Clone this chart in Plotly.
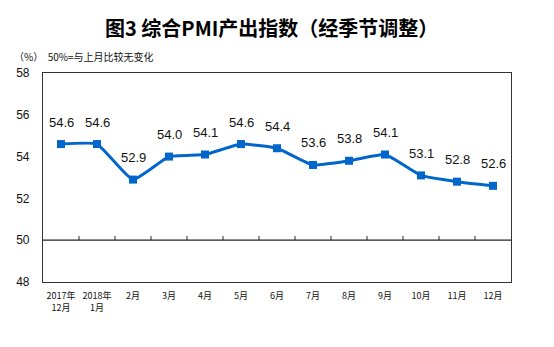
import plotly.graph_objects as go

categories = ["2017年<br>12月", "2018年<br>1月", "2月", "3月", "4月", "5月", "6月",
              "7月", "8月", "9月", "10月", "11月", "12月"]
values = [54.6, 54.6, 52.9, 54.0, 54.1, 54.6, 54.4, 53.6, 53.8, 54.1, 53.1, 52.8, 52.6]
y_ticks = [48, 50, 52, 54, 56, 58]

xs = list(range(len(categories)))
FONT = "Liberation Sans, Arial, Noto Sans CJK SC, sans-serif"
CJK = "Noto Sans CJK SC, sans-serif"

fig = go.Figure()
fig.add_trace(go.Scatter(
    x=xs, y=values, mode="lines+markers",
    line=dict(color="#0066CC", width=3, shape="spline", smoothing=0.4),
    marker=dict(symbol="square", size=8, color="#0066CC"),
    cliponaxis=False, showlegend=False, hoverinfo="skip"))

shapes = [dict(type="line", xref="x", yref="y", x0=-0.5, x1=len(categories) - 0.5,
               y0=50, y1=50, line=dict(color="#222222", width=1.2))]
for k in range(1, len(categories)):
    shapes.append(dict(type="line", xref="x", yref="y", x0=k - 0.5, x1=k - 0.5,
                       y0=50, y1=50.2, line=dict(color="#222222", width=1)))

annotations = [
    dict(x=x, y=v, text=f"{v:.1f}", xref="x", yref="y", showarrow=False,
         yshift=22, xanchor="center", yanchor="middle",
         font=dict(family=FONT, size=13, color="#111111"))
    for x, v in zip(xs, values)
]
annotations += [
    dict(text="<b>图3 综合PMI产出指数（经季节调整）</b>", xref="paper", yref="paper",
         x=0.5, y=1, xshift=-6, yshift=46, xanchor="center", yanchor="middle", showarrow=False,
         font=dict(family=CJK, size=20, color="#000000")),
    dict(text="（%）  50%=与上月比较无变化", xref="paper", yref="paper",
         x=0, xshift=-31, y=1, yshift=17, xanchor="left", yanchor="middle",
         showarrow=False, font=dict(family=CJK, size=10, color="#111111")),
]

fig.update_layout(
    width=554, height=347,
    margin=dict(l=43, r=43, t=73, b=65),
    paper_bgcolor="white", plot_bgcolor="white",
    shapes=shapes,
    annotations=annotations,
    xaxis=dict(range=[-0.5, len(categories) - 0.5], tickvals=xs, ticktext=categories,
               showgrid=False, zeroline=False, showline=True, mirror=True,
               linecolor="#333333", linewidth=1.2, ticks="", ticklabelstandoff=5,
               tickfont=dict(family=CJK, size=9, color="#111111")),
    yaxis=dict(range=[48, 58], tickvals=y_ticks, showgrid=False, zeroline=False,
               showline=True, mirror=True, linecolor="#333333", linewidth=1.2,
               ticks="", ticklabelstandoff=10,
               tickfont=dict(family=FONT, size=12, color="#111111")),
)

fig.write_html("out.html")
